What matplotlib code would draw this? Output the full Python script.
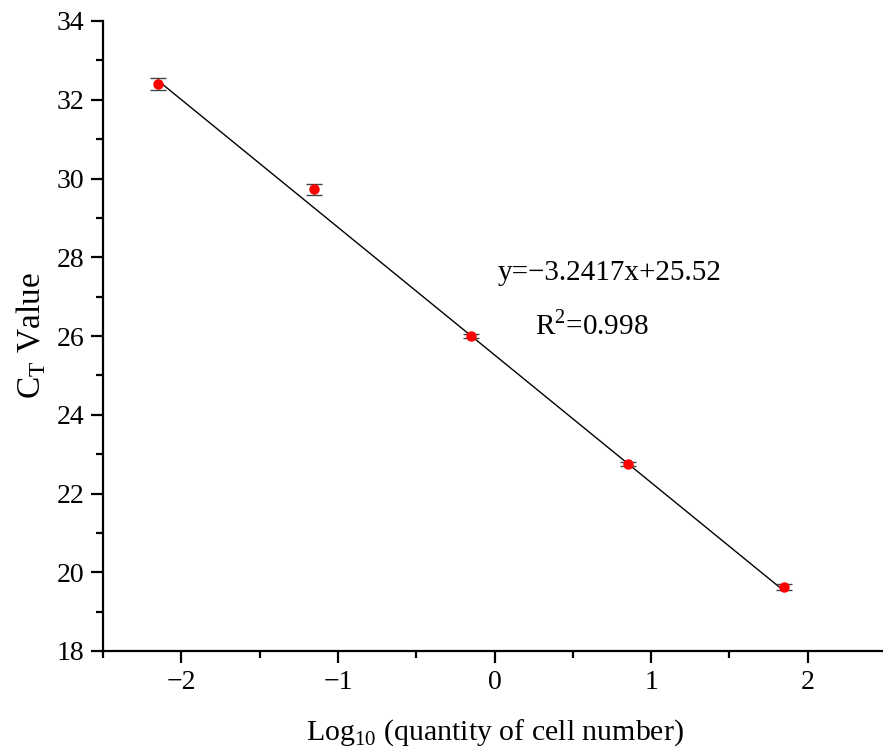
import numpy as np
import matplotlib
matplotlib.use("Agg")
import matplotlib.pyplot as plt
from matplotlib.ticker import MultipleLocator

plt.rcParams['font.family'] = ['Liberation Serif', 'DejaVu Serif']
plt.rcParams['mathtext.fontset'] = 'custom'
plt.rcParams['mathtext.rm'] = 'Liberation Serif'

# data
log_qty = [-2.15, -1.15, -0.15, 0.85, 1.85]
ct_mean = [32.39, 29.73, 26.0, 22.75, 19.62]
ct_err = [0.15, 0.14, 0.05, 0.06, 0.07]
slope, intercept = -3.2417, 25.52

fig = plt.figure(figsize=(8.83, 7.55), dpi=100)
ax = fig.add_axes([103 / 883, 1 - 651 / 755, 783 / 883, 630 / 755])

xfit = np.array([log_qty[0], log_qty[-1]])
ax.plot(xfit, slope * xfit + intercept, color='black', lw=1.0, zorder=2)
ax.errorbar(log_qty, ct_mean, yerr=ct_err, fmt='o', color='red', ms=6.5,
            ecolor='#444444', elinewidth=1.0, capsize=6, capthick=1.0, zorder=3)

ax.set_xlim(-2.5, 2.5)
ax.set_ylim(18, 34)
ax.xaxis.set_major_locator(MultipleLocator(1))
ax.xaxis.set_minor_locator(MultipleLocator(0.5))
ax.yaxis.set_major_locator(MultipleLocator(2))
ax.yaxis.set_minor_locator(MultipleLocator(1))
ax.set_xticks([-2, -1, 0, 1, 2])
ax.set_xticklabels(['\u22122', '\u22121', '0', '1', '2'])

for s in ['top', 'right']:
    ax.spines[s].set_visible(False)
for s in ['left', 'bottom']:
    ax.spines[s].set_linewidth(1.6)

ax.tick_params(which='major', direction='out', length=8.5, width=1.6, labelsize=20, pad=5)
ax.tick_params(which='minor', direction='out', length=5, width=1.6)

ax.set_xlabel('Log$_{10}$ (quantity of cell number)', fontsize=21.5, labelpad=16)
ax.set_ylabel('C$_{\\mathrm{T}}$ Value', fontsize=24, labelpad=6)

ax.text(0.02, 27.6, 'y=\u22123.2417x+25.52', fontsize=21, ha='left', va='center')
ax.text(0.26, 26.28, 'R$^2$=0.998', fontsize=21, ha='left', va='center')

fig.savefig('out.png', dpi=100)
